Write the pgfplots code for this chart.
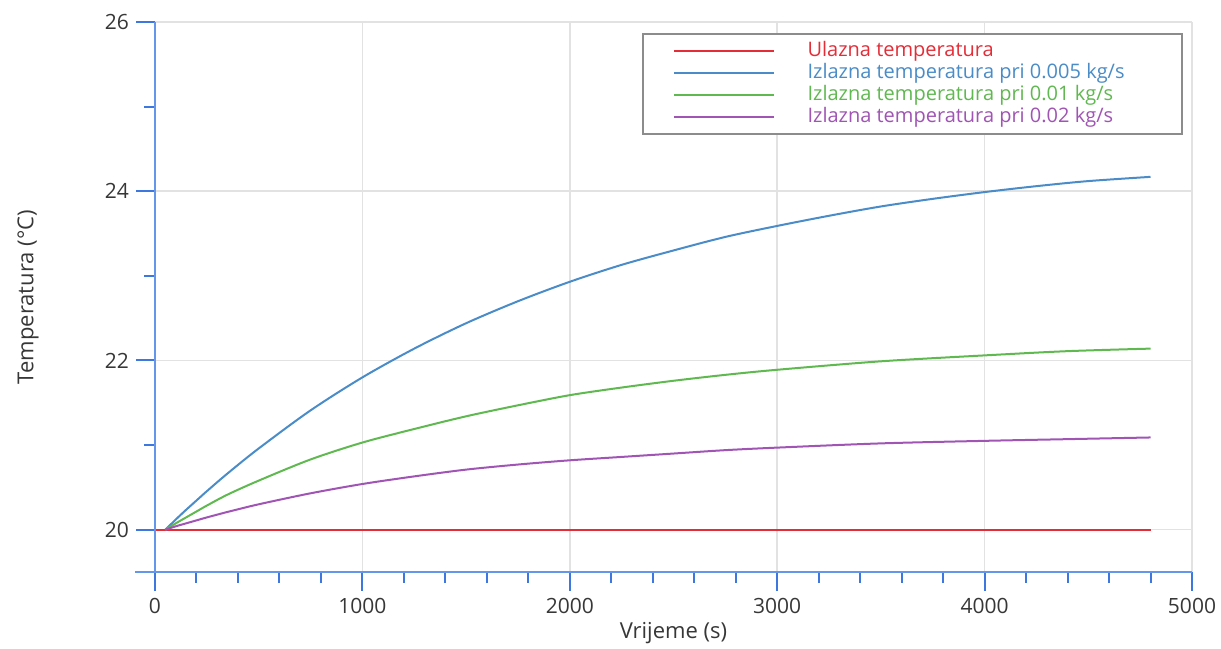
\documentclass[border=0pt]{standalone}
\usepackage{fontspec}
\setmainfont{Open Sans}
\usepackage{pgfplots}
\usepackage{pgfplotstable}
\pgfplotsset{compat=1.18}
\definecolor{axblue}{RGB}{100,150,235}
\definecolor{tickblue}{RGB}{60,120,222}
\definecolor{cred}{RGB}{228,45,55}
\definecolor{cblue}{RGB}{74,140,200}
\definecolor{cgreen}{RGB}{96,184,80}
\definecolor{cpurple}{RGB}{160,84,180}
\definecolor{txt}{RGB}{55,55,55}
\definecolor{gridgray}{RGB}{226,226,226}

\pgfplotstableread{
t T
0 20.00
4800 20.00
}\redtab
\pgfplotstableread{
t T
50 20.00
100 20.12
150 20.235
200 20.345
250 20.455
350 20.665
500 20.96
750 21.41
1000 21.80
1250 22.14
1500 22.44
1750 22.70
2000 22.93
2250 23.13
2500 23.30
2750 23.46
3000 23.59
3250 23.71
3500 23.82
3750 23.91
4000 23.99
4250 24.06
4500 24.12
4800 24.17
}\bluetab
\pgfplotstableread{
t T
50 20.00
100 20.075
150 20.145
200 20.215
250 20.285
350 20.415
500 20.58
750 20.83
1000 21.03
1250 21.19
1500 21.34
1750 21.47
2000 21.59
2250 21.68
2500 21.76
2750 21.83
3000 21.89
3500 21.99
4000 22.06
4400 22.11
4800 22.14
}\greentab
\pgfplotstableread{
t T
50 20.00
100 20.04
150 20.075
200 20.11
250 20.145
350 20.21
500 20.30
750 20.43
1000 20.54
1250 20.63
1500 20.71
1750 20.77
2000 20.82
2250 20.86
2500 20.90
2750 20.94
3000 20.97
3500 21.02
4000 21.05
4400 21.07
4800 21.09
}\purpletab

\begin{document}
\begin{tikzpicture}
\useasboundingbox (-77.5pt,-38pt) rectangle (533pt,286pt);
\begin{axis}[
  at={(0,0)}, anchor=south west,
  scale only axis, width=518.5pt, height=275pt,
  xmin=0, xmax=5000, ymin=19.5, ymax=26,
  axis lines=left, axis line style={draw=none},
  tick align=outside,
  major tick length=9.5pt, minor tick length=5.5pt,
  every tick/.style={tickblue, line width=1pt},
  minor tick style={tickblue, line width=1pt},
  xtick={0,1000,...,5000}, ytick={20,22,24,26},
  minor x tick num=4, minor y tick num=1,
  grid=major, major grid style={gridgray, line width=0.8pt},
  ticklabel style={font=\fontsize{10.5}{12}\selectfont, text=txt},
  /pgf/number format/assume math mode=true,
  /pgf/number format/1000 sep={},
  scaled x ticks=false, scaled y ticks=false,
  xlabel={Vrijeme (s)}, ylabel={Temperatura (°C)},
  label style={font=\fontsize{11}{13}\selectfont, text=txt},
  xlabel style={at={(axis description cs:0.5,-0.1109)}, anchor=center},
  ylabel style={at={(axis description cs:-0.1225,0.5)}, anchor=center},
  legend style={at={(axis description cs:1,1)}, anchor=north east,
    xshift=-4.5pt, yshift=-5.5pt, draw=gray!90, line width=0.9pt, fill=white,
    inner xsep=15pt, inner ysep=3pt, row sep=0pt,
    font=\fontsize{10}{11}\selectfont,
    nodes={inner sep=0.25pt, text height=8pt, text depth=2.5pt}},
  legend cell align=left,
  legend image code/.code={\draw[#1, line width=1pt] (0pt,0pt) -- (50pt,0pt); \path (66pt,0pt);},
]
\addplot[cred, line width=0.9pt] table[x=t, y=T] {\redtab};
\addlegendentry{\makebox[172pt][l]{\textcolor{cred}{Ulazna temperatura}}}
\addplot[cblue, line width=1pt, smooth] table[x=t, y=T] {\bluetab};
\addlegendentry{\makebox[172pt][l]{\textcolor{cblue}{Izlazna temperatura pri 0.005 kg/s}}}
\addplot[cgreen, line width=1pt, smooth] table[x=t, y=T] {\greentab};
\addlegendentry{\makebox[172pt][l]{\textcolor{cgreen}{Izlazna temperatura pri 0.01 kg/s}}}
\addplot[cpurple, line width=1pt, smooth] table[x=t, y=T] {\purpletab};
\addlegendentry{\makebox[172pt][l]{\textcolor{cpurple}{Izlazna temperatura pri 0.02 kg/s}}}
\end{axis}
\draw[axblue, line width=1.3pt] (0,0) -- (0,275pt);
\draw[axblue, line width=1.3pt] (-10pt,0) -- (518.5pt,0);
\end{tikzpicture}
\end{document}
